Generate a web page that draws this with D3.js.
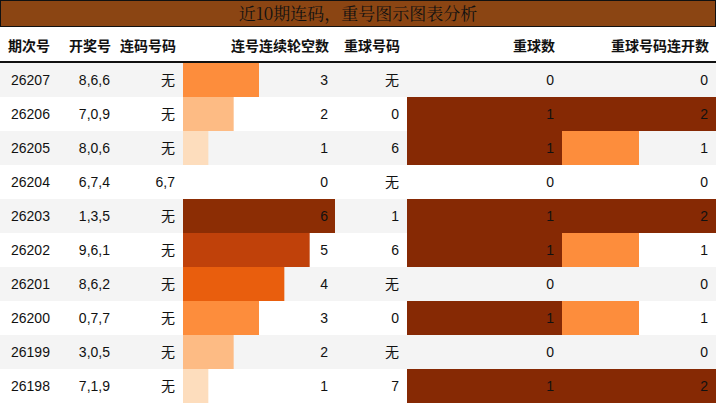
<!DOCTYPE html>
<html><head><meta charset="utf-8">
<script src="https://cdn.jsdelivr.net/npm/d3@7"></script>
<style>body{margin:0;background:#fff}</style>
</head><body><div id="chart"></div>
<script>
const periods = ['26207','26206','26205','26204','26203','26202','26201','26200','26199','26198']
const draws = ['8,6,6','7,0,9','8,0,6','6,7,4','1,3,5','9,6,1','8,6,2','0,7,7','3,0,5','7,1,9']
const consec = ['无','无','无','6,7','无','无','无','无','无','无']
const gapCounts = [3,2,1,0,6,5,4,3,2,1]
const repeatNums = ['无','0','6','无','1','6','无','0','无','7']
const repeatCounts = [0,1,1,0,1,1,0,1,0,1]
const repeatRuns = [0,2,1,0,2,1,0,1,0,2]
const headers = ['期次号','开奖号','连码号码','连号连续轮空数','重球号码','重球数','重球号码连开数']

const W = 716, H = 404
const font = "'Liberation Sans','Noto Sans CJK SC',sans-serif"
const svg = d3.select('#chart').append('svg').attr('width', W).attr('height', H)

// title bar
svg.append('rect').attr('x', 0.5).attr('y', 0.5).attr('width', W - 1).attr('height', 26)
  .attr('fill', '#8b4513').attr('stroke', '#111')
svg.append('text').attr('x', W / 2).attr('y', 20).attr('text-anchor', 'middle')
  .attr('font-family', "'Noto Serif CJK SC','DejaVu Serif',serif").attr('font-size', 17)
  .attr('fill', '#111').text('近10期连码，重号图示图表分析')

// column edges
const cols = [0, 57, 118, 183, 336, 407, 562, 716]
const rowTop = 63, rowH = 34
const y = d3.scaleBand().domain(periods).range([rowTop, rowTop + rowH * 10])

// header
headers.forEach((h, i) => {
  svg.append('text').attr('x', i === 0 ? 8 : cols[i + 1] - 7).attr('y', 51)
    .attr('text-anchor', i === 0 ? 'start' : 'end')
    .attr('font-family', font).attr('font-weight', 'bold').attr('font-size', 14)
    .attr('fill', '#111').text(h)
})
svg.append('line').attr('x1', 0).attr('x2', W).attr('y1', 62).attr('y2', 62)
  .attr('stroke', '#111').attr('stroke-width', 2)

// row backgrounds
svg.selectAll('.bg').data(periods).enter().append('rect')
  .attr('x', 0).attr('width', W).attr('y', d => y(d)).attr('height', y.bandwidth())
  .attr('fill', (d, i) => i % 2 === 0 ? '#f4f4f4' : '#fff')

// bar scales
const xGap = d3.scaleLinear().domain([0, 6]).range([0, cols[4] - cols[3] - 1])
const gapColor = d3.scaleOrdinal().domain([1, 2, 3, 4, 5, 6])
  .range(['#fdddbd', '#fdbb84', '#fd8d3c', '#e95e0d', '#c0410a', '#8c2d04'])
const xCnt = d3.scaleLinear().domain([0, 1]).range([0, cols[6] - cols[5]])
const xRun = d3.scaleLinear().domain([0, 2]).range([0, cols[7] - cols[6]])
const runColor = d3.scaleOrdinal().domain([1, 2]).range(['#fd8d3c', '#862904'])

const g = svg.append('g')
g.selectAll('.gap').data(gapCounts).enter().append('rect')
  .attr('x', cols[3]).attr('y', (d, i) => y(periods[i])).attr('height', y.bandwidth())
  .attr('width', d => xGap(d)).attr('fill', d => gapColor(d))
g.selectAll('.cnt').data(repeatCounts).enter().append('rect')
  .attr('x', cols[5]).attr('y', (d, i) => y(periods[i])).attr('height', y.bandwidth())
  .attr('width', d => xCnt(d)).attr('fill', '#862904')
g.selectAll('.run').data(repeatRuns).enter().append('rect')
  .attr('x', cols[6]).attr('y', (d, i) => y(periods[i])).attr('height', y.bandwidth())
  .attr('width', d => xRun(d)).attr('fill', d => runColor(d))

// cell text
const columns = [periods, draws, consec, gapCounts, repeatNums, repeatCounts, repeatRuns]
columns.forEach((arr, c) => {
  g.selectAll('.t' + c).data(arr).enter().append('text')
    .attr('x', c === 0 ? 11 : cols[c + 1] - 8)
    .attr('y', (d, i) => y(periods[i]) + y.bandwidth() / 2 + 5)
    .attr('text-anchor', c === 0 ? 'start' : 'end')
    .attr('font-family', font).attr('font-size', 14).attr('fill', '#111')
    .text(d => d)
})
</script></body></html>
